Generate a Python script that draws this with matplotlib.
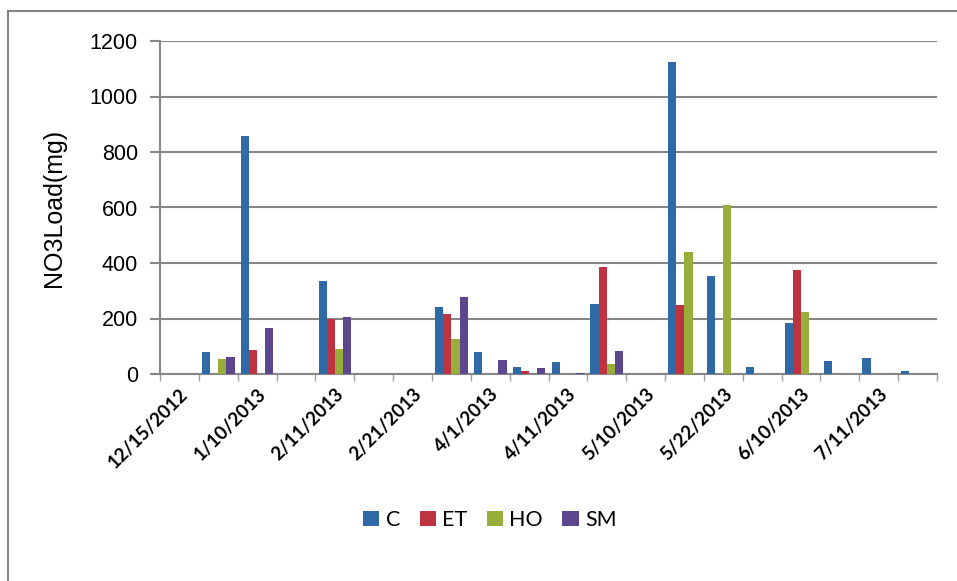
import numpy as np
import matplotlib
matplotlib.use("Agg")
import matplotlib.pyplot as plt
from matplotlib.lines import Line2D
from matplotlib.patches import Patch

# Sampling dates (every other one is labelled on the axis)
dates = ["12/15/2012", "", "1/10/2013", "", "2/11/2013", "", "2/21/2013", "",
         "4/1/2013", "", "4/11/2013", "", "5/10/2013", "", "5/22/2013", "",
         "6/10/2013", "", "7/11/2013", ""]

# NO3 load (mg) per treatment
C  = [0, 78, 858, 0, 335, 0, 0, 241, 78, 24, 42, 253, 0, 1126, 352, 26, 183, 47, 58, 12]
ET = [0, 0, 87, 0, 198, 0, 0, 217, 0, 10, 0, 386, 0, 250, 0, 0, 376, 0, 0, 0]
HO = [0, 55, 0, 0, 90, 0, 0, 126, 0, 0, 0, 36, 0, 440, 608, 0, 223, 0, 0, 0]
SM = [0, 63, 165, 0, 205, 0, 0, 277, 50, 23, 4, 84, 0, 0, 0, 0, 0, 0, 0, 0]

series = [("C", C, "#2F6AA6"), ("ET", ET, "#BF3340"),
          ("HO", HO, "#98AE3A"), ("SM", SM, "#5C468E")]

fig = plt.figure(figsize=(9.57, 5.81), dpi=100)
ax = fig.add_axes([160 / 957, 1 - 374 / 581, 777 / 957, 333 / 581])

n = len(dates)
x = np.arange(n)
bw = 0.21
for i, (name, vals, col) in enumerate(series):
    ax.bar(x + (i - 1.5) * bw, vals, width=bw, color=col, edgecolor="none",
           zorder=3)

ax.set_xlim(-0.5, n - 0.5)
ax.set_ylim(0, 1200)
ax.set_yticks(np.arange(0, 1201, 200))
ax.yaxis.grid(True, color="#868686", linewidth=1.5, zorder=0)
ax.set_axisbelow(True)

for s in ["top", "right"]:
    ax.spines[s].set_visible(False)
for s in ["left", "bottom"]:
    ax.spines[s].set_color("#868686")
    ax.spines[s].set_linewidth(1.5)

ax.tick_params(axis="y", length=7, width=1.5, color="#868686",
               labelsize=15.5, pad=9)
for lab in ax.get_yticklabels():
    lab.set_family("Liberation Sans")

# category boundaries as small ticks, labels at every other centre
ax.set_xticks(np.arange(-0.5, n, 1.0), minor=True)
ax.tick_params(axis="x", which="minor", length=5, width=1.0, color="#A0A0A0")
shown = [i for i, d in enumerate(dates) if d]
ax.set_xticks(shown)
ax.set_xticklabels([dates[i] for i in shown], rotation=45, ha="right",
                   rotation_mode="anchor", fontsize=13.5, family="Lato",
                   fontweight="bold")
ax.tick_params(axis="x", which="major", length=0, pad=8)

ax.set_ylabel("NO3Load(mg)", fontsize=18, family="Liberation Sans",
              labelpad=17)

handles = [Patch(facecolor=col, edgecolor="none", label=name)
           for name, _, col in series]
fig.legend(handles=handles, loc="center", bbox_to_anchor=(490 / 957, 1 - 520 / 581),
           ncol=4, frameon=False, handlelength=0.75,
           handleheight=0.75, handletextpad=0.3, columnspacing=0.9,
           prop={"family": "Lato", "size": 15.5})

# chart frame (left and top edges)
fig.add_artist(Line2D([8 / 957, 8 / 957], [0, 1 - 11 / 581],
                      transform=fig.transFigure, color="#868686", linewidth=1.5))
fig.add_artist(Line2D([8 / 957, 1], [1 - 11 / 581, 1 - 11 / 581],
                      transform=fig.transFigure, color="#868686", linewidth=1.5))

fig.savefig("out.png", dpi=100)
